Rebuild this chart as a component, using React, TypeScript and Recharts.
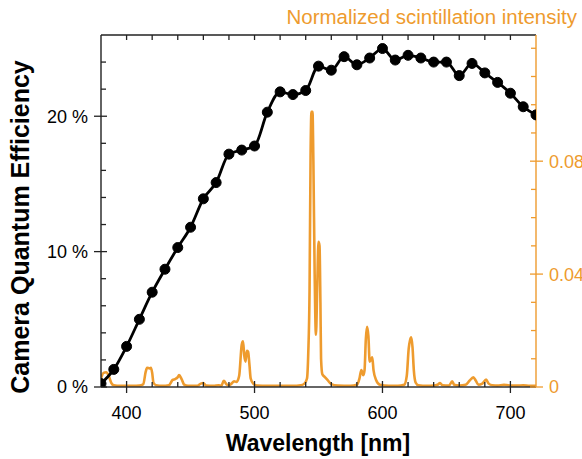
import React from "react";
import { LineChart, Line, XAxis, YAxis } from "recharts";

// camera quantum efficiency (%)
const qeWavelength = [
  380, 390, 400, 410, 420, 430, 440, 450, 460, 470, 480, 490, 500, 510, 520, 530, 540, 550,
  560, 570, 580, 590, 600, 610, 620, 630, 640, 650, 660, 670, 680, 690, 700, 710, 720,
];
const qePercent = [
  0.25, 1.3, 3.0, 5.0, 7.0, 8.7, 10.3, 11.8, 13.9, 15.1, 17.2, 17.5, 17.8, 20.3, 21.8, 21.6,
  21.9, 23.7, 23.4, 24.4, 23.8, 24.3, 25.0, 24.15, 24.5, 24.3, 24.0, 24.0, 23.0, 23.9, 23.2,
  22.5, 21.7, 20.7, 20.1,
];

// scintillation spectrum (orange), normalized intensity
const scintWavelength = [
  380, 382, 384, 386, 388, 390, 395, 400, 405, 410, 413, 415, 416, 418, 419, 420, 421, 423,
  428, 433, 436, 438, 440, 441, 443, 445, 448, 455, 458, 460, 462, 468, 472, 474, 476, 478,
  480, 482, 484, 486, 488, 490, 491, 492, 493, 494, 495, 496, 497, 499, 502, 510, 520, 530,
  536, 539, 541, 542, 543, 543.8, 544.5, 545.3, 546, 547, 548, 549, 550, 550.8, 551.5, 552,
  553, 555, 557, 560, 565, 575, 580, 582, 583.5, 585, 586, 587, 588, 589, 590, 591, 592, 593,
  595, 598, 605, 612, 617, 619, 620.5, 621.5, 622.5, 623.5, 624.5, 626, 628, 635, 640, 643,
  645, 647, 652, 654.5, 656, 660, 665, 668, 671, 673, 675, 678, 681, 683, 686, 690, 695, 697,
  700, 705, 710, 715, 720,
];
const scintIntensity = [
  0.003, 0.005, 0.0052, 0.004, 0.0015, 0.0006, 0.0004, 0.0004, 0.0004, 0.0005, 0.001, 0.0055,
  0.0068, 0.0066, 0.0068, 0.005, 0.0015, 0.0006, 0.0004, 0.0006, 0.0025, 0.0028, 0.0035,
  0.0042, 0.0028, 0.0008, 0.0004, 0.0004, 0.0012, 0.0014, 0.0005, 0.0004, 0.0006, 0.0004,
  0.0022, 0.001, 0.0006, 0.0012, 0.002, 0.0018, 0.004, 0.015, 0.0162, 0.011, 0.009, 0.0128,
  0.0125, 0.008, 0.003, 0.0012, 0.0005, 0.0004, 0.0004, 0.0004, 0.0006, 0.0012, 0.003, 0.012,
  0.034, 0.0816, 0.0975, 0.0975, 0.08, 0.04, 0.0185, 0.035, 0.0514, 0.05, 0.03, 0.01, 0.0045,
  0.0035, 0.0025, 0.001, 0.0005, 0.0004, 0.0008, 0.003, 0.006, 0.0042, 0.006, 0.017, 0.0213,
  0.018, 0.009, 0.0095, 0.0105, 0.006, 0.0025, 0.0008, 0.0004, 0.0004, 0.0008, 0.004, 0.0136,
  0.0165, 0.0176, 0.014, 0.006, 0.0015, 0.0006, 0.0004, 0.0005, 0.0008, 0.0014, 0.0006,
  0.0005, 0.002, 0.0008, 0.0005, 0.0008, 0.0022, 0.0034, 0.0022, 0.0008, 0.0012, 0.0026,
  0.0012, 0.0006, 0.0005, 0.0008, 0.0007, 0.0005, 0.0005, 0.0006, 0.0004, 0.0004,
];

const xTicks = [400, 420, 440, 460, 480, 500, 520, 540, 560, 580, 600, 620, 640, 660, 680, 700];
const xLabels = [400, 500, 600, 700];
const qeTicks = [0, 2, 4, 6, 8, 10, 12, 14, 16, 18, 20, 22, 24];
const qeLabels = [0, 10, 20];
const scintTicks = [0, 0.01, 0.02, 0.03, 0.04, 0.05, 0.06, 0.07, 0.08, 0.09, 0.1, 0.11, 0.12];
const scintLabels = [0, 0.04, 0.08];

const FONT = '"Liberation Sans", Arial, Helvetica, sans-serif';
const ORANGE = "#EE9B2E";

const qeData = qeWavelength.map((x, i) => ({ x, qe: qePercent[i] }));
const scintData = scintWavelength.map((x, i) => ({ x, s: scintIntensity[i] }));

const isIn = (list: number[], v: number) => list.some((m) => Math.abs(m - v) < 1e-9);

const BottomTick = ({ x, y, payload }: any) => {
  const major = isIn(xLabels, payload.value);
  return (
    <g>
      <line x1={x} x2={x} y1={y - (major ? 6 : 5)} y2={y + (major ? 6 : 0)} stroke="#222" strokeWidth={1.3} />
      {major && (
        <text x={x} y={y + 32} textAnchor="middle" fontSize={18} fontFamily={FONT} fill="#000">
          {payload.value}
        </text>
      )}
    </g>
  );
};

const TopTick = ({ x, y }: any) => (
  <line x1={x} x2={x} y1={y} y2={y + 5} stroke="#222" strokeWidth={1.3} />
);

const LeftTick = ({ x, y, payload }: any) => {
  const major = isIn(qeLabels, payload.value);
  return (
    <g>
      <line x1={x - (major ? 7 : 0)} x2={x + (major ? 6 : 5)} y1={y} y2={y} stroke="#222" strokeWidth={1.3} />
      {major && (
        <text x={x - 13} y={y} dy="0.36em" textAnchor="end" fontSize={18} fontFamily={FONT} fill="#000">
          {payload.value + " %"}
        </text>
      )}
    </g>
  );
};

const RightTick = ({ x, y, payload }: any) => {
  const major = isIn(scintLabels, payload.value);
  return (
    <g>
      <line x1={x - (major ? 6 : 5)} x2={x + (major ? 7 : 0)} y1={y} y2={y} stroke={ORANGE} strokeWidth={1.3} />
      {major && (
        <text x={x + 13} y={y} dy="0.36em" textAnchor="start" fontSize={18} fontFamily={FONT} fill={ORANGE}>
          {payload.value === 0 ? "0" : payload.value.toFixed(2)}
        </text>
      )}
    </g>
  );
};

export default function App() {
  return (
    <div style={{ position: "absolute", left: 0, top: 0, width: 582, height: 459, background: "#fff" }}>
      <LineChart width={582} height={459} margin={{ top: 34, right: 0, bottom: 42, left: 0 }}>
        <XAxis
          xAxisId="bottom"
          dataKey="x"
          type="number"
          domain={[380, 720]}
          allowDataOverflow
          ticks={xTicks}
          interval={0}
          height={30}
          tickSize={0}
          tickMargin={0}
          tickLine={false}
          tick={<BottomTick />}
          axisLine={{ stroke: "#333", strokeWidth: 1.6 }}
        />
        <XAxis
          xAxisId="top"
          orientation="top"
          dataKey="x"
          type="number"
          domain={[380, 720]}
          allowDataOverflow
          ticks={xTicks}
          interval={0}
          height={1}
          tickSize={0}
          tickMargin={0}
          tickLine={false}
          tick={<TopTick />}
          axisLine={{ stroke: "#222", strokeWidth: 1.4 }}
        />
        <YAxis
          yAxisId="left"
          type="number"
          domain={[0, 26]}
          allowDataOverflow
          ticks={qeTicks}
          interval={0}
          width={101}
          tickSize={0}
          tickMargin={0}
          tickLine={false}
          tick={<LeftTick />}
          axisLine={{ stroke: "#222", strokeWidth: 1.4 }}
        />
        <YAxis
          yAxisId="right"
          orientation="right"
          type="number"
          domain={[0, 0.1247]}
          allowDataOverflow
          ticks={scintTicks}
          interval={0}
          width={46}
          tickSize={0}
          tickMargin={0}
          tickLine={false}
          tick={<RightTick />}
          axisLine={{ stroke: ORANGE, strokeWidth: 1.4 }}
        />
        <Line
          data={scintData}
          xAxisId="bottom"
          yAxisId="right"
          dataKey="s"
          type="monotone"
          stroke={ORANGE}
          strokeWidth={2.6}
          dot={false}
          isAnimationActive={false}
        />
        <Line
          data={qeData}
          xAxisId="bottom"
          yAxisId="left"
          dataKey="qe"
          type="monotone"
          stroke="#000"
          strokeWidth={2.8}
          dot={{ r: 5, fill: "#000", stroke: "#000", strokeWidth: 1 }}
          isAnimationActive={false}
        />
      </LineChart>
      <svg width={582} height={459} style={{ position: "absolute", left: 0, top: 0, pointerEvents: "none" }}>
        <text x={577} y={24} textAnchor="end" fontSize={20.5} fontFamily={FONT} fill={ORANGE}>
          Normalized scintillation intensity
        </text>
        <text transform="translate(29,227) rotate(-90)" textAnchor="middle" fontSize={25} fontWeight="bold" fontFamily={FONT} fill="#000">
          Camera Quantum Efficiency
        </text>
        <text x={318} y={451} textAnchor="middle" fontSize={23} fontWeight="bold" fontFamily={FONT} fill="#000">
          Wavelength [nm]
        </text>
      </svg>
    </div>
  );
}
